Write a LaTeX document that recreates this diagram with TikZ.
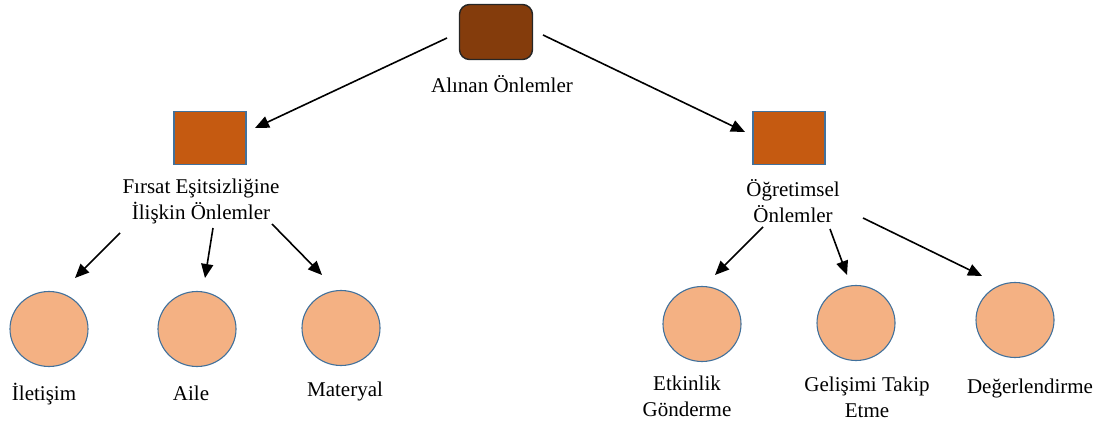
\documentclass[tikz,border=0pt]{standalone}
\usepackage{fontspec}
\setmainfont{Liberation Serif}
\usepackage{tikz}
\usetikzlibrary{arrows.meta,shapes.geometric}

\definecolor{topbrown}{HTML}{843C0C}
\definecolor{midorange}{HTML}{C55A11}
\definecolor{leaforange}{HTML}{F4B183}
\definecolor{edgeblue}{HTML}{41719C}

\begin{document}
\begin{tikzpicture}[x=1pt,y=-1pt,
  font=\fontsize{21}{26}\selectfont,
  rootbox/.style={draw=black!85,line width=1.4pt,fill=topbrown,rounded corners=10pt,
    minimum width=73pt,minimum height=55pt},
  midbox/.style={draw=edgeblue,line width=1.1pt,fill=midorange,
    minimum width=72pt,minimum height=53pt},
  leaf/.style={ellipse,draw=edgeblue,line width=1.1pt,fill=leaforange,
    minimum width=78pt,minimum height=75pt},
  lbl/.style={align=center,inner sep=0pt},
  arr/.style={line width=1.6pt,-{Triangle[length=14pt,width=12pt]}}]
\useasboundingbox (0,0) rectangle (1107,427);
% boxes
\node[rootbox] (top) at (496,32) {};
\node[lbl] (topl) at (502,84) {Alınan Önlemler};
\node[midbox] (sqL) at (210,138) {};
\node[midbox] (sqR) at (789,138) {};
\node[lbl] (lblL) at (201,201) {Fırsat Eşitsizliğine\\İlişkin Önlemler};
\node[lbl] (lblR) at (793,201) {Öğretimsel\\Önlemler};
% leaves
\node[leaf] (c1) at (49,329) {};
\node[leaf] (c2) at (197,329) {};
\node[leaf] (c3) at (341,328) {};
\node[leaf] (d1) at (702,324) {};
\node[leaf] (d2) at (856,323) {};
\node[leaf] (d3) at (1015,320) {};
\node[lbl] (c1l) at (44,394) {İletişim};
\node[lbl] (c2l) at (191,393) {Aile};
\node[lbl] (c3l) at (345,391) {Materyal};
\node[lbl] (d1l) at (687,396) {Etkinlik\\Gönderme};
\node[lbl] (d2l) at (867,397) {Gelişimi Takip\\Etme};
\node[lbl] (d3l) at (1030,388) {Değerlendirme};
% arrows
\draw[arr] ([shift={(-49,6)}]top.center) -- ([shift={(45,-10)}]sqL.center);
\draw[arr] ([shift={(47,3)}]top.center) -- ([shift={(-44,-6)}]sqR.center);
\draw[arr] ([shift={(-81,32)}]lblL.center) -- ([shift={(26,-51)}]c1.center);
\draw[arr] ([shift={(12,27)}]lblL.center) -- ([shift={(8,-51)}]c2.center);
\draw[arr] ([shift={(71,23)}]lblL.center) -- ([shift={(-19,-53)}]c3.center);
\draw[arr] ([shift={(-30,26)}]lblR.center) -- ([shift={(13,-49)}]d1.center);
\draw[arr] ([shift={(37,28)}]lblR.center) -- ([shift={(-9,-48)}]d2.center);
\draw[arr] ([shift={(70,17)}]lblR.center) -- ([shift={(-33,-44)}]d3.center);
\end{tikzpicture}
\end{document}
